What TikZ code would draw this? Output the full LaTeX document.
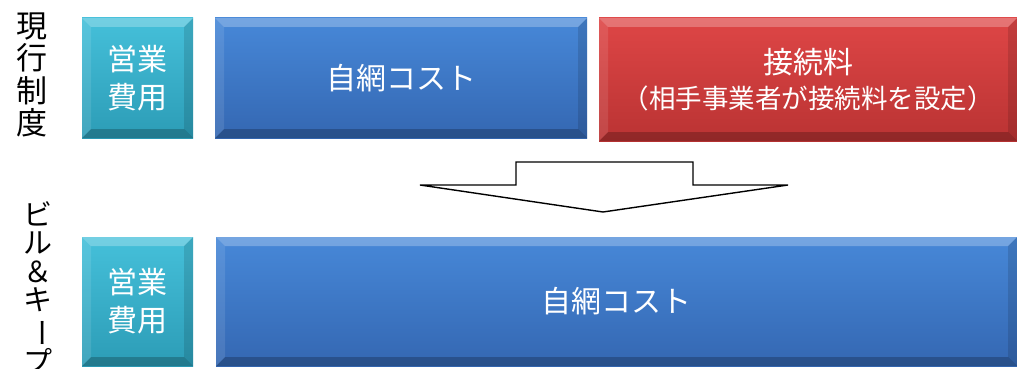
\documentclass[tikz,border=0pt]{standalone}
\usepackage{fontspec}
\usepackage{graphicx}
\newfontfamily\jp{Noto Sans CJK JP}
\definecolor{tealtop}{HTML}{45C0DA}
\definecolor{tealbot}{HTML}{2C9CB6}
\definecolor{bluetop}{HTML}{4788D8}
\definecolor{bluebot}{HTML}{3467B2}
\definecolor{redtop}{HTML}{DE4646}
\definecolor{redbot}{HTML}{BA3333}
\tikzset{
  bevel/.style={path picture={
    \path (path picture bounding box.north west) coordinate (pNW)
          (path picture bounding box.north east) coordinate (pNE)
          (path picture bounding box.south west) coordinate (pSW)
          (path picture bounding box.south east) coordinate (pSE);
    \fill[white,opacity=.25] (pNW) -- (pNE) -- ([shift={(-9pt,-9pt)}]pNE) -- ([shift={(9pt,-9pt)}]pNW) -- cycle;
    \fill[black,opacity=.22] (pSW) -- (pSE) -- ([shift={(-9pt,9pt)}]pSE) -- ([shift={(9pt,9pt)}]pSW) -- cycle;
    \fill[white,opacity=.10] (pNW) -- ([shift={(9pt,-9pt)}]pNW) -- ([shift={(9pt,9pt)}]pSW) -- (pSW) -- cycle;
    \fill[black,opacity=.12] (pNE) -- ([shift={(-9pt,-9pt)}]pNE) -- ([shift={(-9pt,9pt)}]pSE) -- (pSE) -- cycle;
  }},
  costbox/.style={rectangle, anchor=north west, inner sep=0pt, outer sep=0pt,
    bevel, text=white, align=center, font=\jp\fontsize{30}{38}\selectfont},
  opbox/.style={costbox, top color=tealtop, bottom color=tealbot},
  ownbox/.style={costbox, top color=bluetop, bottom color=bluebot},
  icbox/.style={costbox, top color=redtop, bottom color=redbot},
  sidelabel/.style={align=center, inner sep=0pt, text=black},
  bigarrow/.style={draw=black, line width=1.4pt, fill=white, line join=miter}
}
\begin{document}
\begin{tikzpicture}[x=1pt,y=-1pt]
\useasboundingbox (0,0) rectangle (1017,369);
% row 1
\node[opbox, minimum width=111pt, minimum height=120pt] (op1) at (82,18) {営業\\費用};
\node[ownbox, minimum width=372pt, minimum height=120pt] (own1) at (215,18) {自網コスト};
\node[icbox, minimum width=418pt, minimum height=123pt] (ic) at (599,18)
  {接続料\\[-3pt]{\fontsize{26.5}{30}\selectfont （相手事業者が接続料を設定）}};
% row 2
\node[opbox, minimum width=111pt, minimum height=129pt] (op2) at (82,237) {営業\\費用};
\node[ownbox, minimum width=801pt, minimum height=129pt] (own2) at (216,237) {自網コスト};
% side labels
\node[sidelabel, font=\jp\fontsize{31}{32.5}\selectfont] (lab1) at (32,75) {現\\行\\制\\度};
\node[sidelabel, font=\jp\fontsize{29}{28.5}\selectfont, anchor=north] (lab2) at (38,201)
  {ビ\\ル\\＆\\キ\\\rotatebox[origin=c]{-90}{ー}\\プ};
% arrow
\draw[bigarrow] (420,185) -- (516,185) -- (516,162) -- (693,162) -- (693,185) -- (788,185) -- (603,212) -- cycle;
\end{tikzpicture}
\end{document}
